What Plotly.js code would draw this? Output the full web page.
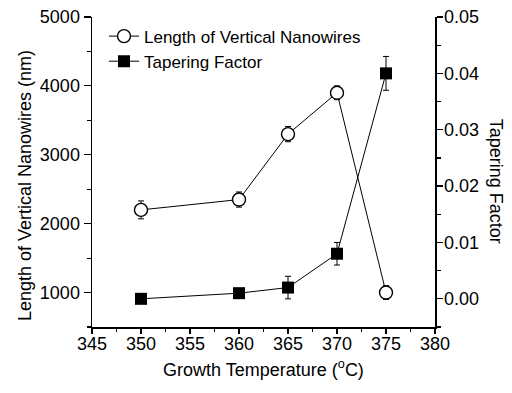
<!DOCTYPE html>
<html>
<head>
<meta charset="utf-8">
<script src="https://cdn.plot.ly/plotly-3.0.1.min.js"></script>
<style>html,body{margin:0;padding:0;background:#fff;}#chart{width:512px;height:393px;}</style>
</head>
<body>
<div id="chart"></div>
<script>
const temperatures = [350, 360, 365, 370, 375];
const lengthNm = [2200, 2350, 3300, 3900, 1000];
const lengthErr = [130, 110, 110, 100, 100];
const taperingFactor = [0.000, 0.001, 0.002, 0.008, 0.040];
const taperingErr = [0.0005, 0.0005, 0.002, 0.002, 0.003];
const seriesNames = ['Length of Vertical Nanowires', 'Tapering Factor'];
const axisTitles = ['Growth Temperature (<sup>o</sup>C)', 'Length of Vertical Nanowires (nm)', 'Tapering Factor'];

const FONT = 'Liberation Sans, Arial, Helvetica, sans-serif';

const traces = [
  {
    x: temperatures, y: lengthNm, name: seriesNames[0],
    type: 'scatter', mode: 'lines+markers', xaxis: 'x', yaxis: 'y',
    line: {color: '#000', width: 1},
    marker: {symbol: 'circle', size: 13, color: '#fff', line: {width: 1.4, color: '#000'}},
    error_y: {type: 'data', array: lengthErr, visible: true, color: '#000', thickness: 1, width: 3}
  },
  {
    x: temperatures, y: taperingFactor, name: seriesNames[1],
    type: 'scatter', mode: 'lines+markers', xaxis: 'x', yaxis: 'y2',
    line: {color: '#000', width: 1},
    marker: {symbol: 'square', size: 12, color: '#000'},
    error_y: {type: 'data', array: taperingErr, visible: true, color: '#000', thickness: 1, width: 3}
  }
];

const tickStyle = {tickwidth: 1.2, tickcolor: '#000'};

const layout = {
  width: 512, height: 393,
  margin: {l: 92, r: 77, t: 17, b: 66},
  paper_bgcolor: '#fff', plot_bgcolor: '#fff',
  font: {family: FONT, color: '#000', size: 18},
  showlegend: true,
  legend: {x: 0.035, y: 0.995, xanchor: 'left', yanchor: 'top', bgcolor: 'rgba(0,0,0,0)',
           font: {size: 17, family: FONT}, tracegroupgap: 0, itemwidth: 30},
  xaxis: Object.assign({
    range: [345, 380], dtick: 5, tick0: 345, showgrid: false, zeroline: false,
    showline: true, linecolor: '#000', linewidth: 1.5,
    ticks: 'outside', ticklen: 5, ticklabelstandoff: -5,
    minor: Object.assign({ticks: 'outside', ticklen: 3, dtick: 2.5}, tickStyle),
    tickfont: {size: 18},
    title: {text: axisTitles[0], font: {size: 18}, standoff: 10}
  }, tickStyle),
  xaxis2: Object.assign({
    overlaying: 'x', side: 'top', anchor: 'y', range: [345, 380], dtick: 5, tick0: 345,
    showgrid: false, zeroline: false, showline: true, linecolor: '#000', linewidth: 1.5,
    ticks: 'inside', ticklen: 5, showticklabels: false,
    minor: Object.assign({ticks: 'inside', ticklen: 3, dtick: 2.5}, tickStyle)
  }, tickStyle),
  yaxis: Object.assign({
    range: [500, 5000], dtick: 1000, tick0: 0, showgrid: false, zeroline: false,
    showline: true, linecolor: '#000', linewidth: 1.5,
    ticks: 'outside', ticklen: 7,
    minor: Object.assign({ticks: 'outside', ticklen: 4, dtick: 500}, tickStyle),
    tickfont: {size: 18}
  }, tickStyle),
  yaxis2: Object.assign({
    overlaying: 'y', side: 'right', anchor: 'x',
    range: [-0.005, 0.05], dtick: 0.01, tick0: 0, tickformat: '.2f', showgrid: false, zeroline: false,
    showline: true, linecolor: '#000', linewidth: 1.5,
    ticks: 'outside', ticklen: 6, ticklabelstandoff: -2,
    minor: Object.assign({ticks: 'outside', ticklen: 4, dtick: 0.005}, tickStyle),
    tickfont: {size: 18}
  }, tickStyle),
  annotations: [
    {
      text: axisTitles[1], xref: 'paper', yref: 'paper', x: -0.195, y: 0.455,
      xanchor: 'center', yanchor: 'middle', textangle: -90, showarrow: false,
      font: {size: 18, family: FONT, color: '#000'}
    },
    {
      text: axisTitles[2], xref: 'paper', yref: 'paper', x: 1.178, y: 0.472,
      xanchor: 'center', yanchor: 'middle', textangle: 90, showarrow: false,
      font: {size: 18, family: FONT, color: '#000'}
    }
  ]
};

Plotly.newPlot('chart', traces, layout, {displayModeBar: false, staticPlot: true});
</script>
</body>
</html>
